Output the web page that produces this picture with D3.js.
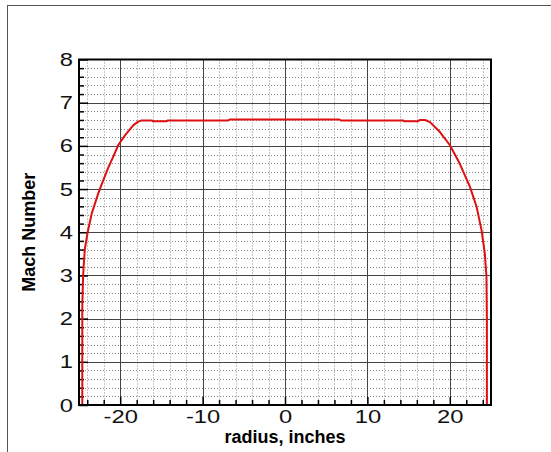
<!DOCTYPE html>
<html>
<head>
<meta charset="utf-8">
<script src="https://cdn.jsdelivr.net/npm/d3@7"></script>
<style>
  html, body { margin: 0; padding: 0; background: #fff; }
  svg { display: block; }
  text { font-family: "Liberation Sans", Arial, Helvetica, sans-serif; }
</style>
</head>
<body>
<svg id="chart" width="551" height="452"></svg>
<script>
// Mach number profile across the nozzle exit
const radius = [-24.6, -24.6, -24.5, -24.3, -23.95, -23.46, -22.66, -22.25, -21.44, -20.8, -20.23,
                -19.4, -18.4, -17.8, -17.4, -16.2, -16.0, -14.4, -14.2, -6.9, -6.7,
                6.6, 6.8, 14.3, 14.5, 16.1, 16.4, 17.0, 17.6, 18.8, 20.0,
                21.2, 22.45, 23.25, 23.85, 24.25, 24.45, 24.5, 24.5];
const mach =   [0, 2.3, 3.0, 3.6, 4.0, 4.43, 4.9, 5.11, 5.5, 5.77, 6.02,
                6.25, 6.48, 6.56, 6.59, 6.59, 6.57, 6.57, 6.59, 6.59, 6.61,
                6.61, 6.59, 6.59, 6.57, 6.57, 6.6, 6.6, 6.55, 6.32, 6.02,
                5.59, 5.05, 4.59, 4.05, 3.51, 2.97, 2.0, 0];

const xMajorTicks = [-20, -10, 0, 10, 20];
const xMinorTicks = [-24, -22, -18, -16, -14, -12, -8, -6, -4, -2, 2, 4, 6, 8, 12, 14, 16, 18, 22, 24];
const yMajorTicks = [0, 1, 2, 3, 4, 5, 6, 7, 8];
const yMinorTicks = d3.range(0, 40).map(i => i * 0.2).filter((v, i) => i % 5 !== 0);

const xTitle = "radius, inches";
const yTitle = "Mach Number";

const svg = d3.select("#chart");
const W = 551, H = 452;
const pLeft = 79, pRight = 491, pTop = 59.5, pBottom = 405;

const x = d3.scaleLinear().domain([-25, 25]).range([pLeft, pRight]);
const y = d3.scaleLinear().domain([0, 8]).range([pBottom, pTop]);

// outer page border (top and left edges)
svg.append("line").attr("x1", 7).attr("x2", W).attr("y1", 5.5).attr("y2", 5.5)
  .attr("stroke", "#555").attr("stroke-width", 1);
svg.append("line").attr("x1", 7.5).attr("x2", 7.5).attr("y1", 5).attr("y2", H)
  .attr("stroke", "#555").attr("stroke-width", 1);

// minor grid (dotted)
const grid = svg.append("g");
grid.selectAll(".vminor").data(xMinorTicks).join("line")
  .attr("x1", d => Math.round(x(d)) + 0.5).attr("x2", d => Math.round(x(d)) + 0.5)
  .attr("y1", pTop).attr("y2", pBottom)
  .attr("stroke", "#888").attr("stroke-width", 1).attr("stroke-dasharray", "1,2");
grid.selectAll(".hminor").data(yMinorTicks).join("line")
  .attr("y1", d => Math.round(y(d)) + 0.5).attr("y2", d => Math.round(y(d)) + 0.5)
  .attr("x1", pLeft).attr("x2", pRight)
  .attr("stroke", "#888").attr("stroke-width", 1).attr("stroke-dasharray", "1,2");

// major grid (solid)
grid.selectAll(".vmajor").data(xMajorTicks).join("line")
  .attr("x1", d => Math.round(x(d)) + 0.5).attr("x2", d => Math.round(x(d)) + 0.5)
  .attr("y1", pTop).attr("y2", pBottom)
  .attr("stroke", "#444").attr("stroke-width", 1);
grid.selectAll(".hmajor").data(yMajorTicks.filter(d => d > 0 && d < 8)).join("line")
  .attr("y1", d => Math.round(y(d)) + 0.5).attr("y2", d => Math.round(y(d)) + 0.5)
  .attr("x1", pLeft).attr("x2", pRight)
  .attr("stroke", "#444").attr("stroke-width", 1);

// axes with inward ticks; labels use a plain hyphen for negatives
const fmt = d => String(d);
const yAxisMajor = d3.axisLeft(y).tickValues(yMajorTicks).tickSize(-9).tickPadding(6).tickFormat(fmt);
const yAxisMinor = d3.axisLeft(y).tickValues(yMinorTicks).tickSize(-5).tickFormat("");
const xAxisMajor = d3.axisBottom(x).tickValues(xMajorTicks).tickSize(-8).tickPadding(5).tickFormat(fmt);
const xAxisMinor = d3.axisBottom(x).tickValues(xMinorTicks).tickSize(-5).tickFormat("");

const stretch = 1.25; // wide, light tick-label lettering

function styleAxis(g) {
  g.select(".domain").remove();
  g.selectAll(".tick line").attr("stroke", "#000").attr("stroke-width", 1.5);
  g.selectAll(".tick text").attr("font-size", 19).attr("fill", "#111")
    .attr("font-family", "'Liberation Sans', Arial, sans-serif")
    .attr("transform", function () {
      const tx = +this.getAttribute("x") || 0;
      return `translate(${tx},0) scale(${stretch},1) translate(${-tx},0)`;
    });
}

svg.append("g").attr("transform", `translate(${pLeft},0)`).call(yAxisMinor).call(styleAxis);
svg.append("g").attr("transform", `translate(${pLeft},0)`).call(yAxisMajor).call(styleAxis);
svg.append("g").attr("transform", `translate(0,${pBottom})`).call(xAxisMinor).call(styleAxis);
svg.append("g").attr("transform", `translate(0,${pBottom})`).call(xAxisMajor).call(styleAxis);

// Mach profile line
const line = d3.line().x((d, i) => x(radius[i])).y(d => y(d));
svg.append("path").datum(mach)
  .attr("d", line)
  .attr("fill", "none")
  .attr("stroke", "#dd1111")
  .attr("stroke-width", 2)
  .attr("stroke-linejoin", "round");

// plot frame
svg.append("rect").attr("x", pLeft).attr("y", pTop)
  .attr("width", pRight - pLeft).attr("height", pBottom - pTop)
  .attr("fill", "none").attr("stroke", "#000").attr("stroke-width", 2);

// axis titles
svg.append("text").attr("x", (pLeft + pRight) / 2).attr("y", 443)
  .attr("text-anchor", "middle").attr("font-size", 18).attr("font-weight", "bold")
  .text(xTitle);
svg.append("text")
  .attr("transform", `translate(35,${(pTop + pBottom) / 2}) rotate(-90)`)
  .attr("text-anchor", "middle").attr("font-size", 18).attr("font-weight", "bold")
  .text(yTitle);
</script>
</body>
</html>
